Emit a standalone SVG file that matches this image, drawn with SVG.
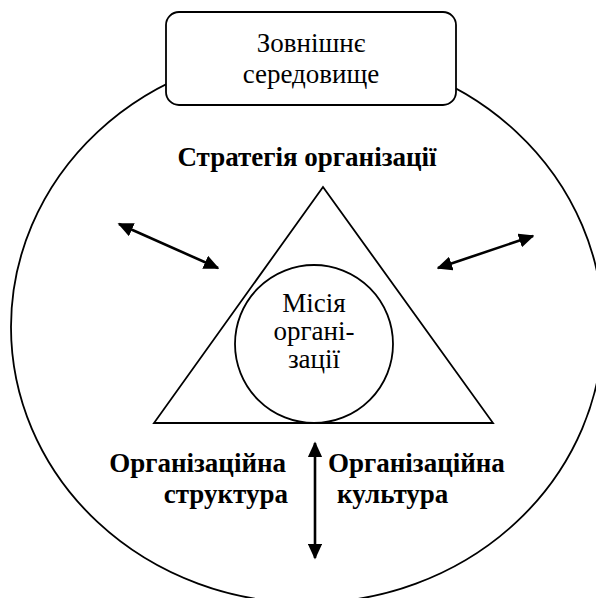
<svg xmlns="http://www.w3.org/2000/svg" width="596" height="598" viewBox="0 0 596 598">
  <defs>
    <style>
      .shape { fill: none; stroke: #000; stroke-width: 1.8; }
      .box { fill: #fff; stroke: #000; stroke-width: 1.8; }
      .link { fill: none; stroke: #000; stroke-width: 2.6; marker-start: url(#head); marker-end: url(#head); }
      text { font-family: "Liberation Serif", "Times New Roman", serif; font-size: 27px; fill: #000; }
      .mid { text-anchor: middle; }
      .end { text-anchor: end; }
      .bold { font-weight: bold; }
    </style>
    <marker id="head" viewBox="0 0 10 10" refX="9" refY="5" markerWidth="6" markerHeight="5.5" markerUnits="strokeWidth" orient="auto-start-reverse" preserveAspectRatio="none">
      <path d="M0,0 L10,5 L0,10 Z" fill="#000"/>
    </marker>
  </defs>

  <!-- outer environment boundary -->
  <g id="environment">
    <ellipse class="shape" cx="307" cy="327" rx="296" ry="276"/>
  </g>

  <!-- label box at the top of the environment -->
  <g id="environment-label">
    <rect class="box" x="166" y="12" width="290" height="93" rx="13" ry="13"/>
    <text class="mid" x="311" y="52">Зовнішнє</text>
    <text class="mid" x="311" y="83">середовище</text>
  </g>

  <!-- strategy triangle -->
  <g id="strategy">
    <text class="mid bold" x="307" y="166">Стратегія організації</text>
    <polygon class="shape" points="323,187 493,423 154,423"/>
  </g>

  <!-- mission circle -->
  <g id="mission">
    <circle class="shape" cx="314" cy="344" r="79"/>
    <text class="mid" x="314" y="312">Місія</text>
    <text class="mid" x="314" y="340">органі-</text>
    <text class="mid" x="314" y="368">зації</text>
  </g>

  <g id="structure">
    <text class="end bold" x="286" y="472">Організаційна</text>
    <text class="end bold" x="288" y="503">структура</text>
  </g>

  <g id="culture">
    <text class="bold" x="328" y="472">Організаційна</text>
    <text class="bold" x="337" y="503">культура</text>
  </g>

  <!-- two-way links -->
  <g id="connectors">
    <line class="link" x1="119" y1="224" x2="218" y2="268"/>
    <line class="link" x1="438" y1="268" x2="533" y2="236"/>
    <line class="link" x1="315" y1="443" x2="315" y2="558"/>
  </g>
</svg>
